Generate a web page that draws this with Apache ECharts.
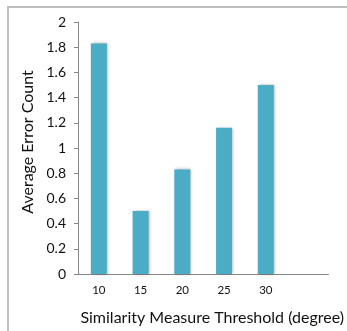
<!DOCTYPE html>
<html>
<head>
<meta charset="utf-8">
<script src="https://cdn.jsdelivr.net/npm/echarts@6/dist/echarts.min.js"></script>
<style>
  html, body { margin: 0; padding: 0; background: #fff; }
  #chart { width: 347px; height: 331px; }
</style>
</head>
<body>
<div id="chart"></div>
<script>
// 数据
var thresholds = ["10", "15", "20", "25", "30", ""];
var errorCounts = [1.83, 0.5, 0.83, 1.16, 1.5, null];
var yTicks = { min: 0, max: 2, interval: 0.2 };

var chart = echarts.init(document.getElementById("chart"));
var font = "Lato, 'Liberation Sans', sans-serif";
var axisGray = "#868686";

var option = {
  animation: false,
  backgroundColor: "#fff",
  textStyle: { fontFamily: font },
  // 外框（只露出上边和左边）
  graphic: [
    { type: "line", shape: { x1: 7, y1: 7, x2: 347, y2: 7 }, style: { stroke: "#c0c0c0", lineWidth: 2 } },
    { type: "line", shape: { x1: 8, y1: 6, x2: 8, y2: 331 }, style: { stroke: "#c0c0c0", lineWidth: 2 } }
  ],
  grid: { left: 78, right: 10, top: 22, bottom: 56 },
  xAxis: {
    type: "category",
    data: thresholds,
    name: "Similarity Measure Threshold (degree)",
    nameLocation: "middle",
    nameGap: 36,
    nameTextStyle: { fontSize: 16, color: "#111", padding: [0, 0, 0, 18] },
    axisLine: { lineStyle: { color: axisGray } },
    axisTick: { alignWithLabel: false, length: 4, lineStyle: { color: axisGray } },
    axisLabel: { fontSize: 11.5, color: "#111", margin: 10 }
  },
  yAxis: {
    type: "value",
    min: yTicks.min,
    max: yTicks.max,
    interval: yTicks.interval,
    name: "Average Error Count",
    nameLocation: "middle",
    nameGap: 36,
    nameTextStyle: { fontSize: 16, color: "#111", padding: [0, 0, 0, 12] },
    axisLine: { show: true, lineStyle: { color: axisGray } },
    axisTick: { show: true, length: 4, lineStyle: { color: axisGray } },
    splitLine: { show: false },
    axisLabel: { fontSize: 14, color: "#111", margin: 12 }
  },
  series: [
    {
      type: "bar",
      data: errorCounts,
      barWidth: 16,
      itemStyle: {
        color: "#4bacc6",
        shadowColor: "rgba(0,0,0,0.3)",
        shadowBlur: 3,
        shadowOffsetX: 1
      }
    }
  ]
};
chart.setOption(option);
</script>
</body>
</html>
